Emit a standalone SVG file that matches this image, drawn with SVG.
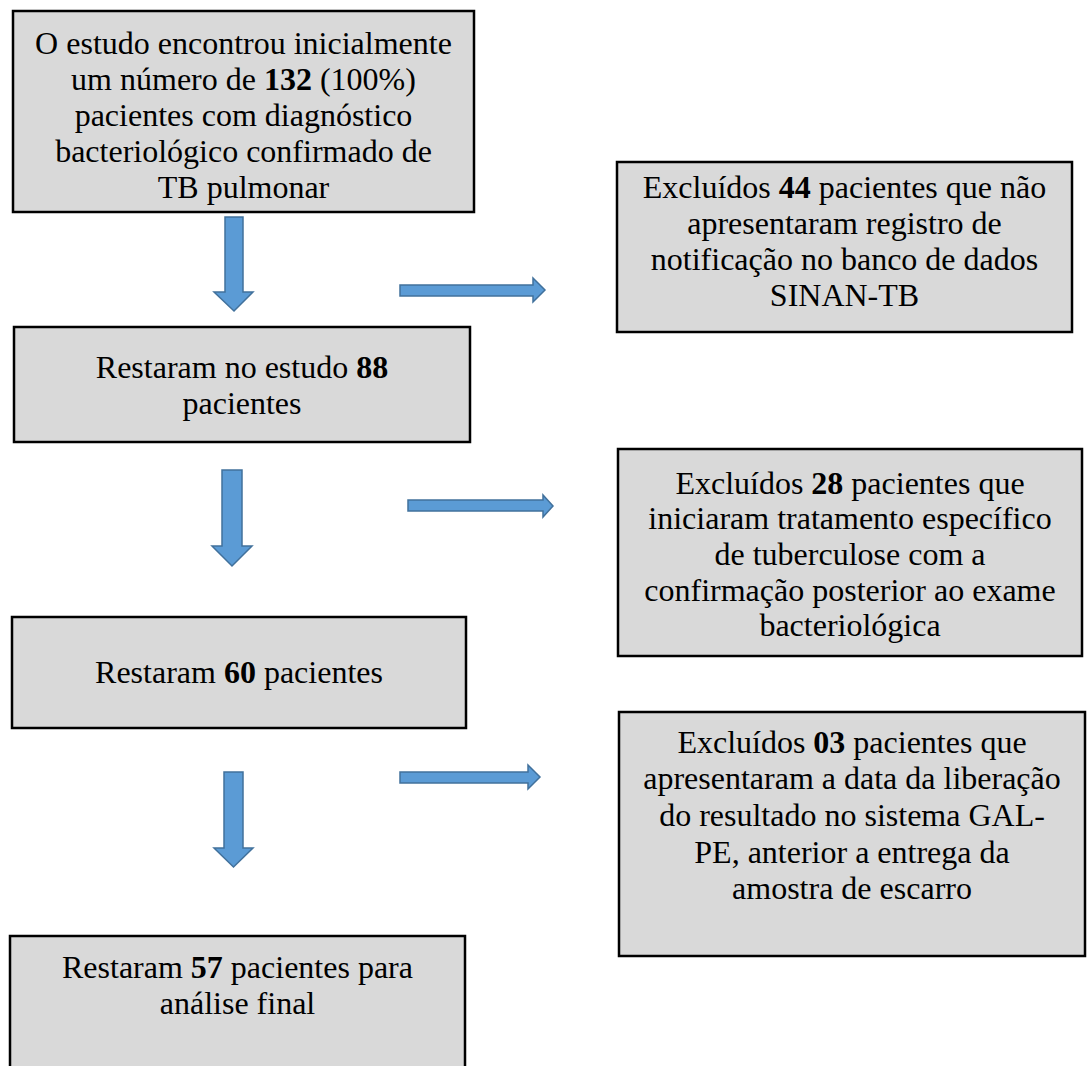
<svg xmlns="http://www.w3.org/2000/svg" width="1088" height="1066" viewBox="0 0 1088 1066">
<style>
.box{fill:#d9d9d9;stroke:#000;stroke-width:2.5}
.t{font-family:'Liberation Serif','Times New Roman',Times,serif;font-size:32px;fill:#000;text-anchor:middle}
.b{font-weight:bold}
.arr{fill:#5b9bd5;stroke:#41719c;stroke-width:1.5;stroke-linejoin:miter}
</style>
<rect x="0" y="0" width="1088" height="1066" fill="#fff"/>
<g id="n1">
<rect class="box" x="13" y="11" width="461" height="201"/>
<text class="t"><tspan x="243.5" y="54">O estudo encontrou inicialmente</tspan><tspan x="243.5" y="90">um número de <tspan class="b">132</tspan> (100%)</tspan><tspan x="243.5" y="126">pacientes com diagnóstico</tspan><tspan x="243.5" y="162">bacteriológico confirmado de</tspan><tspan x="243.5" y="198">TB pulmonar</tspan></text>
</g>
<g id="n2">
<rect class="box" x="617" y="162" width="455" height="170"/>
<text class="t"><tspan x="844.5" y="198">Excluídos <tspan class="b">44</tspan> pacientes que não</tspan><tspan x="844.5" y="234">apresentaram registro de</tspan><tspan x="844.5" y="270">notificação no banco de dados</tspan><tspan x="844.5" y="306">SINAN-TB</tspan></text>
</g>
<g id="n3">
<rect class="box" x="14" y="327" width="456" height="115"/>
<text class="t"><tspan x="242" y="378">Restaram no estudo <tspan class="b">88</tspan></tspan><tspan x="242" y="414">pacientes</tspan></text>
</g>
<g id="n4">
<rect class="box" x="618" y="449" width="464" height="207"/>
<text class="t"><tspan x="850" y="494">Excluídos <tspan class="b">28</tspan> pacientes que</tspan><tspan x="850" y="529">iniciaram tratamento específico</tspan><tspan x="850" y="565">de tuberculose com a</tspan><tspan x="850" y="601">confirmação posterior ao exame</tspan><tspan x="850" y="636">bacteriológica</tspan></text>
</g>
<g id="n5">
<rect class="box" x="12" y="617" width="454" height="111"/>
<text class="t" x="239" y="683">Restaram <tspan class="b">60</tspan> pacientes</text>
</g>
<g id="n6">
<rect class="box" x="619" y="712" width="466" height="244"/>
<text class="t"><tspan x="852" y="753">Excluídos <tspan class="b">03</tspan> pacientes que</tspan><tspan x="852" y="789">apresentaram a data da liberação</tspan><tspan x="852" y="826">do resultado no sistema GAL-</tspan><tspan x="852" y="863">PE, anterior a entrega da</tspan><tspan x="852" y="899">amostra de escarro</tspan></text>
</g>
<g id="n7">
<rect class="box" x="10" y="936" width="455" height="150"/>
<text class="t"><tspan x="237.5" y="978">Restaram <tspan class="b">57</tspan> pacientes para</tspan><tspan x="237.5" y="1014">análise final</tspan></text>
</g>
<g id="connectors">
<polygon class="arr" points="225,217 243,217 243,292 253,292 234,311 214,292 225,292"/>
<polygon class="arr" points="222,470 242,470 242,546 252,546 232,566 212,546 222,546"/>
<polygon class="arr" points="224,772 243,772 243,848 253,848 233.5,867 214,848 224,848"/>
<polygon class="arr" points="400,285 533,285 533,278 545,290 533,302 533,296 400,296"/>
<polygon class="arr" points="408,500 543,500 543,495 553,506 543,517 543,511 408,511"/>
<polygon class="arr" points="400,772 528,772 528,765 540,777 528,789 528,783 400,783"/>
</g>
</svg>
